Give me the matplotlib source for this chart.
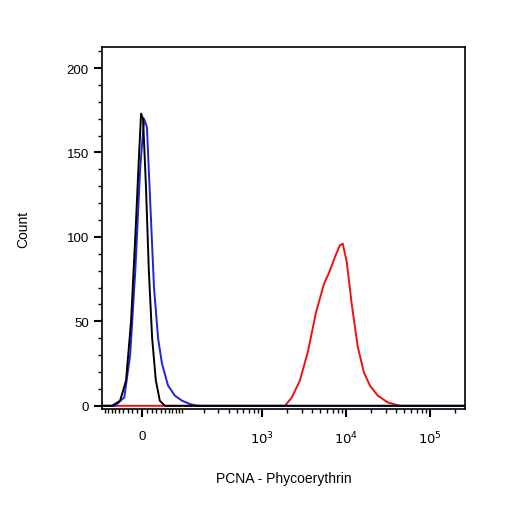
import numpy as np
import matplotlib
matplotlib.use('Agg')
import matplotlib.pyplot as plt

plt.rcParams['font.family'] = ['Liberation Sans', 'DejaVu Sans']

# histogram traces (fluorescence value, count)
black_x = [-100, -69, -48, -34, -23, -14, -6, -2, 2, 8, 14, 21, 29, 38, 50, 262000]
black_y = [0, 0, 3, 15, 50, 100, 150, 173, 170, 130, 80, 40, 15, 3, 0, 0]

blue_x = [-100, -61, -38, -25, -14, -4, 4, 10, 17, 25, 34, 43, 58, 77, 100, 130, 165, 262000]
blue_y = [0, 0, 5, 30, 80, 140, 170, 165, 120, 70, 40, 25, 12, 6, 3, 1, 0, 0]

red_x = [-100, 1886, 2283, 2845, 3541, 4410, 5490, 6470, 7420, 8510, 9230, 10300,
         11800, 13900, 16400, 19400, 24100, 31700, 44000, 262000]
red_y = [0, 0, 5, 15, 32, 55, 72, 80, 88, 95, 96, 85, 60, 35, 20, 12, 6, 2, 0, 0]

W = 75.0
fwd = lambda v: np.arcsinh(np.asarray(v, dtype=float) / W)
inv = lambda u: W * np.sinh(u)

fig = plt.figure(figsize=(5.06, 5.06), dpi=100)
ax = fig.add_axes([0.2016, 0.190, 0.717, 0.715])
ax.set_xscale('function', functions=(fwd, inv))

ax.plot(red_x, red_y, color='#ee1111', lw=1.4)
ax.plot(blue_x, blue_y, color='#2222dd', lw=1.4)
ax.plot(black_x, black_y, color='black', lw=1.4)

ax.set_xlim(-100, 262000)
ax.set_ylim(-1.8, 212.4)

ax.set_xticks([0, 1e3, 1e4, 1e5])
ax.set_xticklabels(['0', r'$10^3$', r'$10^4$', r'$10^5$'])
minor = [s * v for v in range(10, 100, 10) for s in (-1, 1)]
minor += list(range(100, 1000, 100)) + list(range(2000, 10000, 1000))
minor += list(range(20000, 100000, 10000)) + [200000]
ax.set_xticks(minor, minor=True)

ax.set_yticks(range(0, 201, 50))
ax.set_yticks(range(0, 211, 10), minor=True)

ax.tick_params(which='major', length=6, width=1.5, labelsize=9.5)
ax.tick_params(which='minor', length=3, width=1)
ax.tick_params(axis='x', pad=9)
for s in ax.spines.values():
    s.set_linewidth(1.2)

ax.set_xlabel('PCNA - Phycoerythrin', fontsize=10, labelpad=18)
ax.set_ylabel('Count', fontsize=10, labelpad=26)

fig.savefig('out.png', dpi=100)
